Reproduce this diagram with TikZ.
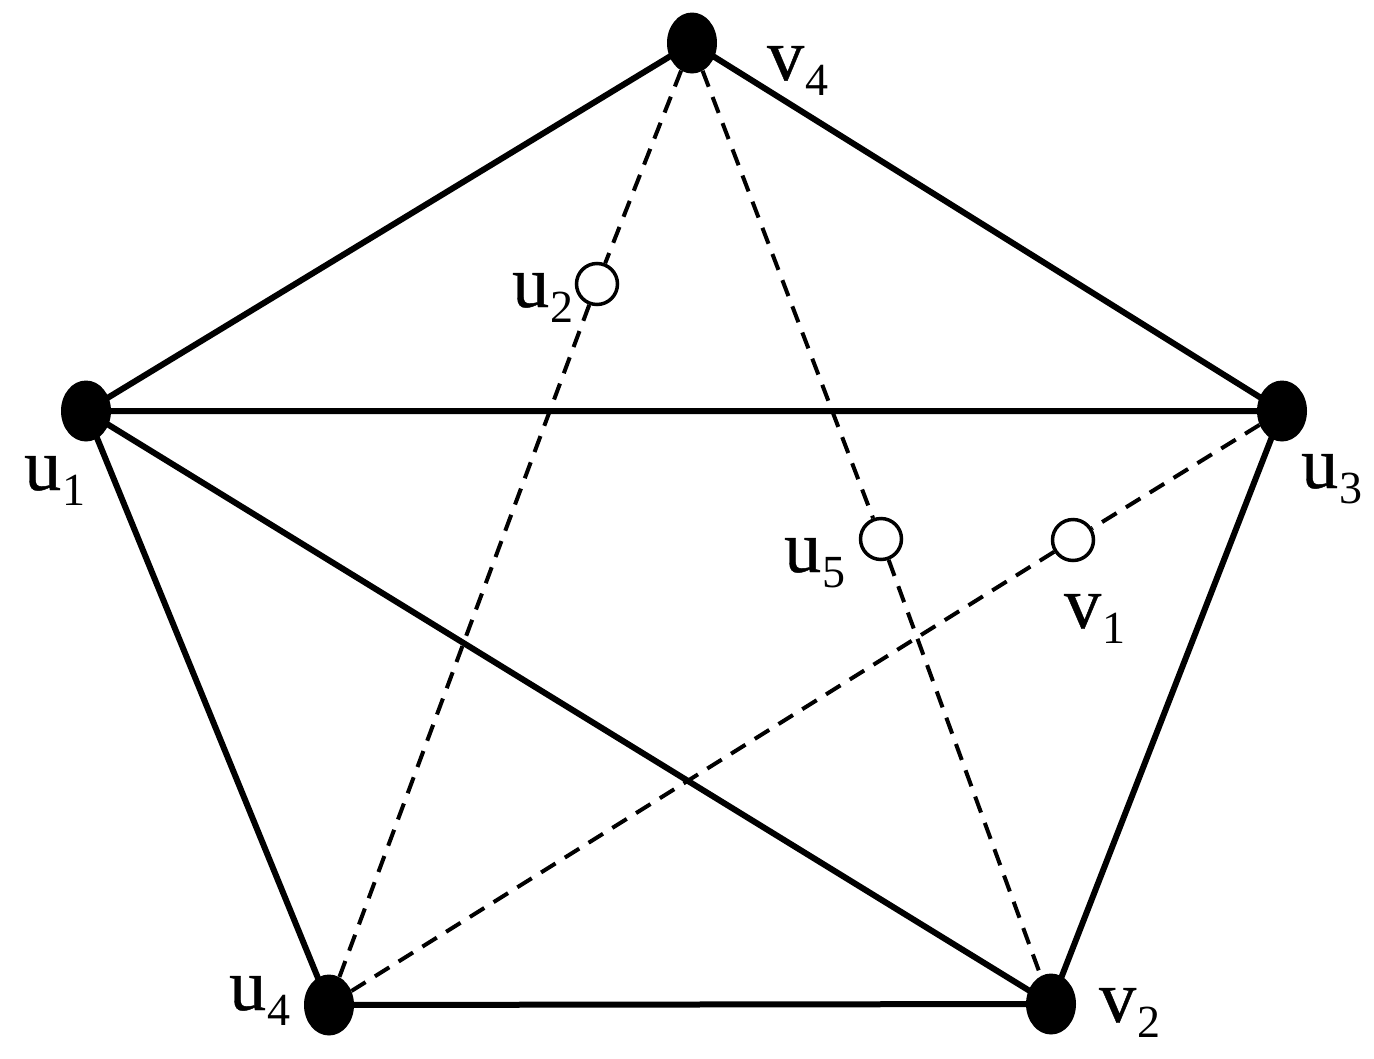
\documentclass[tikz,border=0pt]{standalone}
\usepackage{fontspec}
\setmainfont{Liberation Serif}
\newfontfamily\labfont[FakeBold=0.6]{Liberation Serif}
\usetikzlibrary{shapes.geometric,backgrounds}
\newcommand\lbl[2]{{\labfont #1}\kern1pt\raisebox{-15pt}{\fontsize{46}{46}\selectfont #2}}
\tikzset{
  bigdot/.style={ellipse, fill=black, draw=none, minimum width=50pt, minimum height=61pt, inner sep=0pt},
  opendot/.style={circle, fill=white, draw=black, line width=3.5pt, minimum size=41pt, inner sep=0pt},
  solidedge/.style={line width=6pt},
  dashedge/.style={line width=4pt, dash pattern=on 17pt off 11pt},
  lab/.style={anchor=base west, inner sep=0pt, font=\fontsize{74}{80}\selectfont}
}
\begin{document}
\begin{tikzpicture}[x=1pt,y=-1pt]
\useasboundingbox (0,0) rectangle (1374,1058);
% vertices
\node[bigdot] (v4) at (692,43) {};
\node[bigdot] (u1) at (86,411) {};
\node[bigdot] (u3) at (1282,411) {};
\node[bigdot] (u4) at (329,1005) {};
\node[bigdot] (v2) at (1051,1004) {};
\node[opendot] (u2) at (597,284) {};
\node[opendot] (u5) at (881,539) {};
\node[opendot] (v1) at (1073,540) {};
% labels
\node[lab] (lv4) at (767,80) {\lbl{v}{4}};
\node[lab] (lu2) at (512,307) {\lbl{u}{2}};
\node[lab] (lu1) at (24,490) {\lbl{u}{1}};
\node[lab] (lu3) at (1301,488) {\lbl{u}{3}};
\node[lab] (lu5) at (784,572) {\lbl{u}{5}};
\node[lab] (lv1) at (1064,628) {\lbl{v}{1}};
\node[lab] (lu4) at (229,1010) {\lbl{u}{4}};
\node[lab] (lv2) at (1099,1022) {\lbl{v}{2}};
% edges
\begin{pgfonlayer}{background}
\draw[solidedge] (u1.center) -- (v4.center) -- (u3.center) -- (v2.center) -- (u4.center) -- (u1.center) -- (u3.center);
\draw[solidedge] (u1.center) -- (v2.center);
\draw[dashedge] (v4) -- (u2);
\draw[dashedge] (u2) -- (u4);
\draw[dashedge] (v4) -- (u5);
\draw[dashedge] (u5) -- (v2);
\draw[dashedge] (u3) -- (v1);
\draw[dashedge] (v1) -- (u4);
\end{pgfonlayer}
\end{tikzpicture}
\end{document}
